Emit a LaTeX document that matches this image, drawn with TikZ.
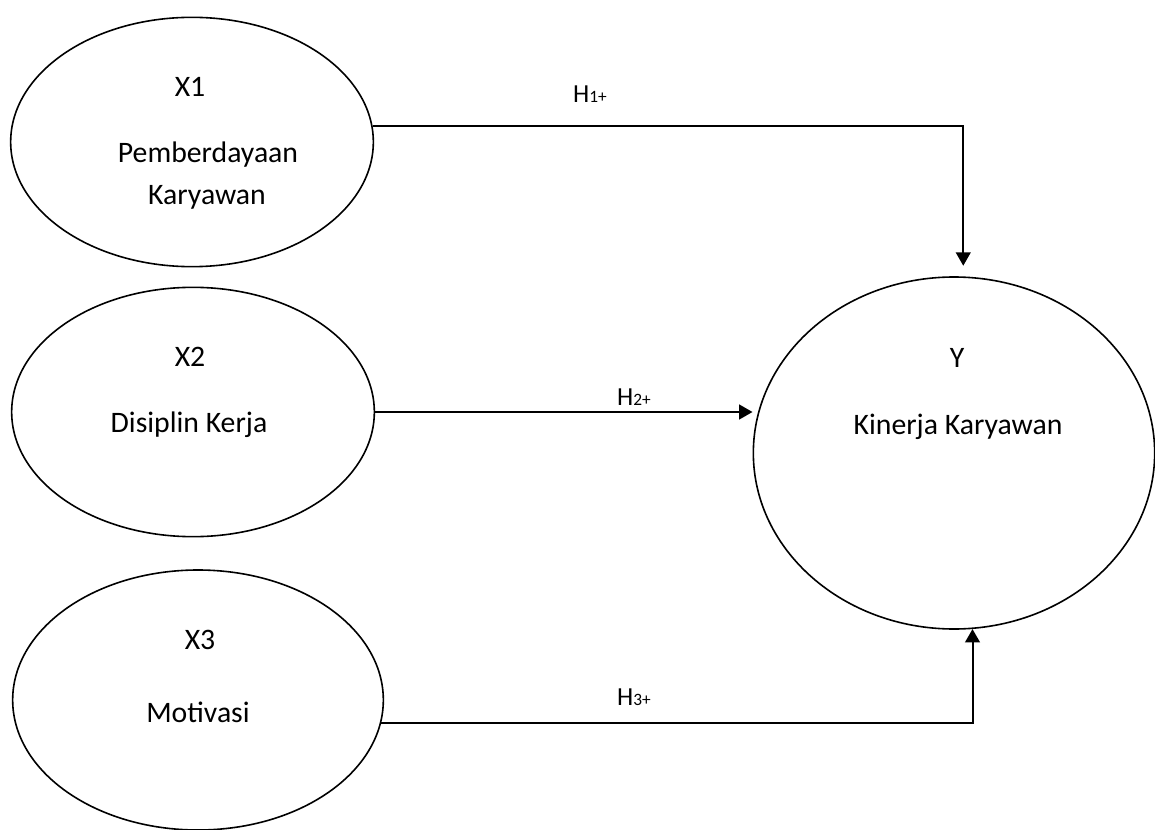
\documentclass[tikz,border=0pt]{standalone}
\usepackage{fontspec}
\setmainfont{Carlito}
\usetikzlibrary{shapes.geometric,arrows.meta}

\begin{document}
\begin{tikzpicture}[x=0.75pt,y=-0.75pt,
    latent/.style={draw, ellipse, line width=1.2pt, inner sep=0pt},
    vartext/.style={font=\fontsize{22.3}{26}\selectfont},
    hyp/.style={font=\fontsize{19.5}{22}\selectfont, anchor=base},
    hpath/.style={line width=1.5pt, -{Triangle[length=10pt,width=11pt]}}]
    \useasboundingbox (0,0) rectangle (1155,830);

    %latent variables
        \node[latent, minimum width=272pt, minimum height=187pt] (X1) at (192,142) {};
        \node[latent, minimum width=272pt, minimum height=187pt] (X2) at (193,412) {};
        \node[latent, minimum width=278pt, minimum height=195pt] (X3) at (198,700) {};
        \node[latent, minimum width=301pt, minimum height=264pt] (Y) at (954,453) {};

    %texts inside the ellipses
        \node[vartext] (X1a) at (190,87) {X1};
        \node[vartext] (X1b) at (208,155) {Pemberdayaan};
        \node[vartext] (X1c) at (207,197) {Karyawan};
        \node[vartext] (X2a) at (190,357) {X2};
        \node[vartext] (X2b) at (189,425) {Disiplin Kerja};
        \node[vartext] (X3a) at (200,640) {X3};
        \node[vartext] (X3b) at (198,712) {Motivasi};
        \node[vartext] (Ya) at (957,358) {Y};
        \node[vartext] (Yb) at (958,427) {Kinerja Karyawan};

    %hypothesis paths
        \draw[hpath, shorten >=8pt] (X1.5) -| (Y.87);
        \draw[hpath] (X2.east) -- (X2.east -| Y.west);
        \draw[hpath] (X3.-7) -| (Y.-84);

    %hypothesis labels
        \node[hyp] (H1) at (590,103) {H{\fontsize{13}{13}\selectfont 1+}};
        \node[hyp] (H2) at (634,405) {H{\fontsize{13}{13}\selectfont 2+}};
        \node[hyp] (H3) at (634,705) {H{\fontsize{13}{13}\selectfont 3+}};

\end{tikzpicture}
\end{document}
